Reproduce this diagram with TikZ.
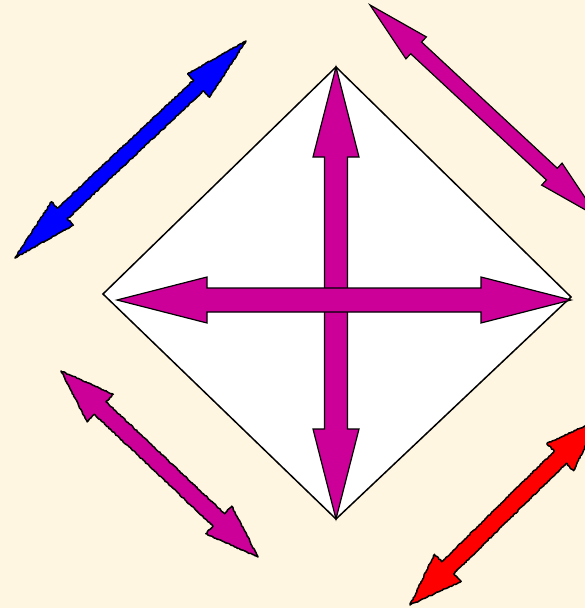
\documentclass[tikz,border=0pt]{standalone}
\usetikzlibrary{calc,decorations.pathmorphing}
\definecolor{bg}{RGB}{255,246,226}
\definecolor{mag}{RGB}{204,0,153}
% #1 style, #2 tip A, #3 tip B, #4 head length, #5 head half width, #6 shaft half width
\newcommand\DArrow[6]{%
  \path[#1] (#2) -- ($(#2)!#4!(#3)!#5!90:(#3)$) -- ($(#2)!#4!(#3)!#6!90:(#3)$)
    -- ($(#3)!#4!(#2)!#6!-90:(#2)$) -- ($(#3)!#4!(#2)!#5!-90:(#2)$) -- (#3)
    -- ($(#3)!#4!(#2)!#5!90:(#2)$) -- ($(#3)!#4!(#2)!#6!90:(#2)$)
    -- ($(#2)!#4!(#3)!#6!-90:(#3)$) -- ($(#2)!#4!(#3)!#5!-90:(#3)$) -- cycle;}
\tikzset{
  smooth arrow/.style={fill=#1, draw=black, line width=1.2pt, line join=miter},
  rough arrow/.style={fill=#1, draw=black, line width=1.5pt, line join=round,
    decorate, decoration={random steps, segment length=1.6pt, amplitude=0.55pt}},
  diamondline/.style={fill=white, draw=black, line width=1.5pt, line join=miter}
}
\begin{document}
\begin{tikzpicture}[x=1pt,y=-1pt]
\pgfmathsetseed{7}
\useasboundingbox (0,0) rectangle (585,608);
\clip (0,0) rectangle (585,608);
\fill[bg] (0,0) rectangle (585,608);
% diamond
\coordinate (dT) at (336,67);
\coordinate (dR) at (571,297);
\coordinate (dB) at (336,519);
\coordinate (dL) at (103,294);
\path[diamondline] (dT) -- (dR) -- (dB) -- (dL) -- cycle;
% central arrows
\coordinate (vA) at (336,67);
\coordinate (vB) at (336,519);
\coordinate (hA) at (117,300);
\coordinate (hB) at (571,300);
\DArrow{smooth arrow=mag}{vA}{vB}{90pt}{23pt}{11.5pt}
\DArrow{smooth arrow=mag}{hA}{hB}{90pt}{23pt}{12pt}
% blue arrow (top left)
\coordinate (bA) at (15,258);
\coordinate (bB) at (246,41);
\DArrow{rough arrow=blue}{bA}{bB}{65pt}{16pt}{7.3pt}
% magenta arrow (top right)
\coordinate (tA) at (370,5);
\coordinate (tB) at (598,217);
\DArrow{smooth arrow=mag}{tA}{tB}{63pt}{15pt}{8pt}
% magenta arrow (bottom left)
\coordinate (lA) at (61,371);
\coordinate (lB) at (258,557);
\DArrow{rough arrow=mag}{lA}{lB}{54pt}{19pt}{8.5pt}
% red arrow (bottom right)
\coordinate (rA) at (410,605);
\coordinate (rB) at (598,420);
\DArrow{rough arrow=red}{rA}{rB}{53pt}{19pt}{8.5pt}
\end{tikzpicture}
\end{document}
